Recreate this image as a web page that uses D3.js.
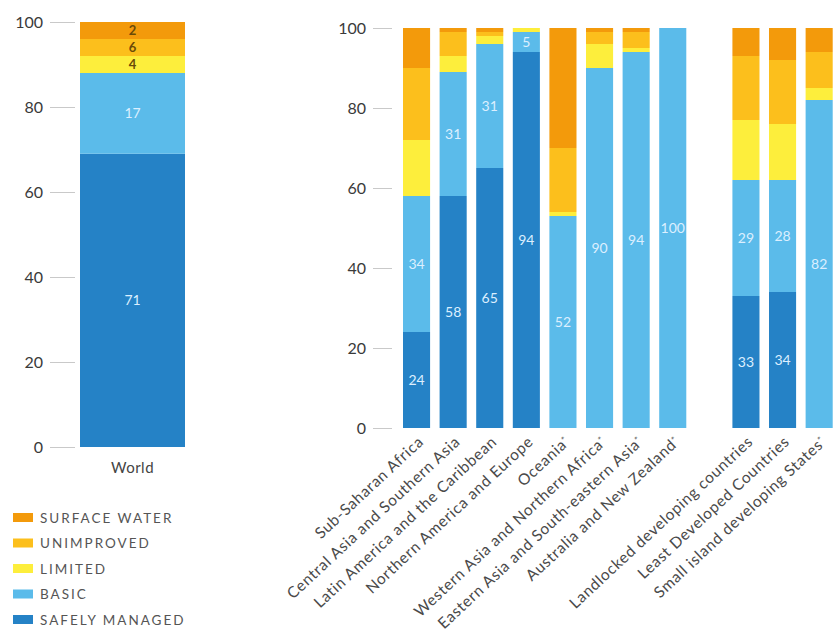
<!DOCTYPE html>
<html>
<head>
<meta charset="utf-8">
<script src="https://cdn.jsdelivr.net/npm/d3@7"></script>
<style>
  body { margin: 0; background: #fff; }
  svg { display: block; }
</style>
</head>
<body>
<svg id="chart" width="840" height="640"></svg>
<script>
// ---------- DATA ----------
const keys = ["safely", "basic", "limited", "unimproved", "surface"];
const legendLabels = ["SURFACE WATER", "UNIMPROVED", "LIMITED", "BASIC", "SAFELY MANAGED"];
const legendKeys = ["surface", "unimproved", "limited", "basic", "safely"];

const worldCategories = ["World"];
const worldSafely = [69];
const worldBasic = [19];
const worldLimited = [4];
const worldUnimproved = [4];
const worldSurface = [4];
const worldSafelyLabels = ["71"];
const worldBasicLabels = ["17"];
const worldLimitedLabels = ["4"];
const worldUnimprovedLabels = ["6"];
const worldSurfaceLabels = ["2"];

const regionGroup1 = ["Sub-Saharan Africa", "Central Asia and Southern Asia", "Latin America and the Caribbean",
  "Northern America and Europe", "Oceania*", "Western Asia and Northern Africa*",
  "Eastern Asia and South-eastern Asia*", "Australia and New Zealand*"];
const regionGroup2 = ["Landlocked developing countries", "Least Developed Countries", "Small island developing States*"];
const regionCategories = regionGroup1.concat(regionGroup2);
const regionSafely     = [24, 58, 65, 94,  0,  0,  0,   0, 33, 34,  0];
const regionBasic      = [34, 31, 31,  5, 53, 90, 94, 100, 29, 28, 82];
const regionLimited    = [14,  4,  2,  1,  1,  6,  1,   0, 15, 14,  3];
const regionUnimproved = [18,  6,  1,  0, 16,  3,  4,   0, 16, 16,  9];
const regionSurface    = [10,  1,  1,  0, 30,  1,  1,   0,  7,  8,  6];
const regionSafelyLabels = ["24", "58", "65", "94", "", "", "", "", "33", "34", ""];
const regionBasicLabels  = ["34", "31", "31", "5", "52", "90", "94", "100", "29", "28", "82"];

const yTicks = [0, 20, 40, 60, 80, 100];

// ---------- STYLE ----------
const colors = {
  surface: "#f39a0b",
  unimproved: "#fcbf1c",
  limited: "#fdee3c",
  basic: "#5bbbea",
  safely: "#2582c6"
};
const FONT = "Lato, 'Open Sans', sans-serif";

const svg = d3.select("#chart");

function buildRows(cats, arrs) {
  return cats.map((c, i) => {
    const r = { cat: c };
    keys.forEach((k, j) => r[k] = arrs[j][i]);
    return r;
  });
}

const worldRows = buildRows(worldCategories, [worldSafely, worldBasic, worldLimited, worldUnimproved, worldSurface]);
const regionRows = buildRows(regionCategories, [regionSafely, regionBasic, regionLimited, regionUnimproved, regionSurface]);

const stack = d3.stack().keys(keys);

// ---------- WORLD PANEL ----------
const yW = d3.scaleLinear().domain([0, 100]).range([447, 22]);
const xW = d3.scaleBand().domain(worldCategories).range([80, 185]).padding(0);

function drawAxis(y, xPos, tickLen) {
  const ax = d3.axisLeft(y).tickValues(yTicks).tickSize(tickLen).tickPadding(7);
  const g = svg.append("g").attr("transform", `translate(${xPos},0)`).call(ax);
  g.select(".domain").remove();
  g.selectAll(".tick line").attr("stroke", "#c9c9c9").attr("stroke-width", 1);
  g.selectAll(".tick text").attr("fill", "#3a3a3a").style("font-family", FONT).style("font-size", "16px");
}
drawAxis(yW, 75, 25);

const worldSeries = stack(worldRows);
svg.append("g").selectAll("g").data(worldSeries).join("g")
  .attr("fill", d => colors[d.key])
  .selectAll("rect").data(d => d).join("rect")
  .attr("x", d => xW(d.data.cat))
  .attr("width", xW.bandwidth())
  .attr("y", d => yW(d[1]))
  .attr("height", d => yW(d[0]) - yW(d[1]));

const worldLabelMap = {
  safely: worldSafelyLabels, basic: worldBasicLabels, limited: worldLimitedLabels,
  unimproved: worldUnimprovedLabels, surface: worldSurfaceLabels
};
worldSeries.forEach(s => {
  s.forEach((d, i) => {
    const t = worldLabelMap[s.key][i];
    if (!t) return;
    const light = (s.key === "safely" || s.key === "basic");
    svg.append("text")
      .attr("x", xW(d.data.cat) + xW.bandwidth() / 2)
      .attr("y", (yW(d[0]) + yW(d[1])) / 2)
      .attr("dy", "0.36em")
      .attr("text-anchor", "middle")
      .attr("fill", light ? "#dcefff" : "#6a4a08")
      .style("font-family", FONT)
      .style("font-size", light ? "14px" : "13px")
      .style("font-weight", light ? "normal" : "bold")
      .text(t);
  });
});

svg.append("text")
  .attr("x", xW("World") + xW.bandwidth() / 2)
  .attr("y", 473)
  .attr("text-anchor", "middle")
  .attr("fill", "#444")
  .style("font-family", FONT)
  .style("font-size", "15px")
  .style("letter-spacing", "0.5px")
  .text("World");

// ---------- LEGEND ----------
const legend = svg.append("g");
legendKeys.forEach((k, i) => {
  const yy = 518 + i * 25.5;
  legend.append("rect").attr("x", 13).attr("y", yy - 5).attr("width", 20).attr("height", 9).attr("fill", colors[k]);
  legend.append("text").attr("x", 40).attr("y", yy).attr("dy", "0.36em")
    .attr("fill", "#555").style("font-family", FONT).style("font-size", "13.5px")
    .style("letter-spacing", "2px").text(legendLabels[i]);
});

// ---------- REGIONS PANEL ----------
const yR = d3.scaleLinear().domain([0, 100]).range([428, 28]);
const xDomain = regionGroup1.concat(["__gap__"], regionGroup2);
const xR = d3.scaleBand().domain(xDomain).range([403, 832.7]).paddingInner(0.26).paddingOuter(0);

drawAxis(yR, 392, 19);

const regionSeries = stack(regionRows);
svg.append("g").selectAll("g").data(regionSeries).join("g")
  .attr("fill", d => colors[d.key])
  .selectAll("rect").data(d => d.filter(v => v[1] - v[0] > 0)).join("rect")
  .attr("x", d => xR(d.data.cat))
  .attr("width", xR.bandwidth())
  .attr("y", d => yR(d[1]))
  .attr("height", d => yR(d[0]) - yR(d[1]));

const regionLabelMap = { safely: regionSafelyLabels, basic: regionBasicLabels };
regionSeries.filter(s => regionLabelMap[s.key]).forEach(s => {
  s.forEach((d, i) => {
    const t = regionLabelMap[s.key][i];
    if (!t) return;
    svg.append("text")
      .attr("x", xR(d.data.cat) + xR.bandwidth() / 2)
      .attr("y", (yR(d[0]) + yR(d[1])) / 2)
      .attr("dy", "0.36em")
      .attr("text-anchor", "middle")
      .attr("fill", "#dcefff")
      .style("font-family", FONT)
      .style("font-size", "14px")
      .text(t);
  });
});

// category labels
regionCategories.forEach(c => {
  const star = c.endsWith("*");
  const name = star ? c.slice(0, -1) : c;
  const cx = xR(c) + xR.bandwidth() / 2;
  const t = svg.append("text")
    .attr("transform", `translate(${cx + 8},${443}) rotate(-43)`)
    .attr("text-anchor", "end")
    .attr("fill", "#4a4a4a")
    .style("font-family", FONT)
    .style("font-size", "15.5px")
    .style("letter-spacing", "0.7px");
  t.append("tspan").text(name);
  if (star) t.append("tspan").attr("dy", "-0.45em").style("font-size", "9px").text("*");
});
</script>
</body>
</html>
